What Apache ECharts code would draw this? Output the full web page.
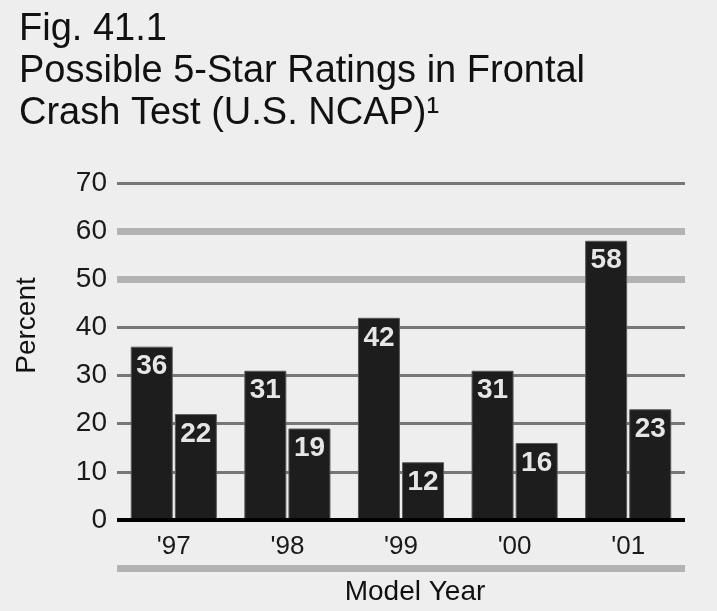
<!DOCTYPE html>
<html>
<head>
<meta charset="utf-8">
<title>Fig. 41.1</title>
<script src="https://cdn.jsdelivr.net/npm/echarts@6/dist/echarts.min.js"></script>
<style>
    html, body { margin: 0; padding: 0; background: #eeeeee; }
    #chart { width: 717px; height: 611px; }
</style>
</head>
<body>
<div id="chart"></div>
<script>
    // model years on the x axis
    var categories = ["'97", "'98", "'99", "'00", "'01"]
    // two bars per year, values in percent
    var firstBars = [36, 31, 42, 31, 58]
    var secondBars = [22, 19, 12, 16, 23]
    // y axis ticks
    var yMin = 0
    var yMax = 70
    var yStep = 10

    var FONT = '"Liberation Sans", Arial, sans-serif'
    var CLEAR = 'rgba(0,0,0,0)'

    var chart = echarts.init(document.getElementById('chart'), null, { renderer: 'canvas' })

    function barLabel() {
        return {
            show: true,
            position: 'insideTop',
            distance: 6,
            color: '#e6e6e6',
            fontFamily: FONT,
            fontWeight: 'bold',
            fontSize: 28
        }
    }

    chart.setOption({
        backgroundColor: '#eeeeee',
        animation: false,
        title: {
            text: 'Fig. 41.1\nPossible 5-Star Ratings in Frontal\nCrash Test (U.S. NCAP)\u00b9',
            left: 14,
            top: 4,
            textStyle: {
                color: '#111',
                fontFamily: FONT,
                fontWeight: 'normal',
                fontSize: 38,
                lineHeight: 42
            }
        },
        grid: {
            left: 117,
            right: 32,
            top: 183,
            bottom: 88
        },
        xAxis: [{
            type: 'category',
            data: categories,
            axisLine: { onZero: false, lineStyle: { color: '#000', width: 4, cap: 'butt' } },
            axisTick: { show: false },
            axisLabel: {
                color: '#1a1a1a',
                fontFamily: FONT,
                fontSize: 26,
                margin: 14
            },
            z: 3
        }, {
            // gray band under the year labels, carries the axis title
            type: 'category',
            data: categories,
            position: 'bottom',
            offset: 48,
            axisLine: { onZero: false, lineStyle: { color: '#b3b3b3', width: 7, cap: 'butt' } },
            axisTick: { show: false },
            axisLabel: { show: false },
            name: 'Model Year',
            nameLocation: 'middle',
            nameGap: 10,
            nameTextStyle: {
                color: '#111',
                fontFamily: FONT,
                fontSize: 28,
                verticalAlign: 'top',
                padding: [0, 0, 0, 28]
            }
        }],
        yAxis: [{
            type: 'value',
            min: yMin,
            max: yMax,
            interval: yStep,
            name: 'Percent',
            nameLocation: 'middle',
            nameGap: 76,
            nameTextStyle: {
                color: '#111',
                fontFamily: FONT,
                fontSize: 28,
                padding: [0, 0, 0, 52]
            },
            axisLine: { show: false },
            axisTick: { show: false },
            axisLabel: {
                color: '#1a1a1a',
                fontFamily: FONT,
                fontSize: 28,
                margin: 10
            },
            splitLine: {
                lineStyle: {
                    color: ['#777', '#777', '#777', '#777', '#777', CLEAR, CLEAR, '#777'],
                    width: 3,
                    cap: 'butt'
                }
            }
        }, {
            // the thicker, paler lines at 50 and 60
            type: 'value',
            min: yMin,
            max: yMax,
            interval: yStep,
            position: 'left',
            axisLine: { show: false },
            axisTick: { show: false },
            axisLabel: { show: false },
            splitLine: {
                lineStyle: {
                    color: [CLEAR, CLEAR, CLEAR, CLEAR, CLEAR, '#b3b3b3', '#b3b3b3', CLEAR],
                    width: 7,
                    cap: 'butt'
                }
            }
        }],
        series: [{
            type: 'bar',
            data: firstBars,
            barWidth: 42,
            barGap: '5%',
            itemStyle: { color: '#1d1d1d', borderColor: '#5a5a5a', borderWidth: 1 },
            label: barLabel()
        }, {
            type: 'bar',
            data: secondBars,
            barWidth: 42,
            itemStyle: { color: '#1d1d1d', borderColor: '#5a5a5a', borderWidth: 1 },
            label: barLabel()
        }]
    })
</script>
</body>
</html>
